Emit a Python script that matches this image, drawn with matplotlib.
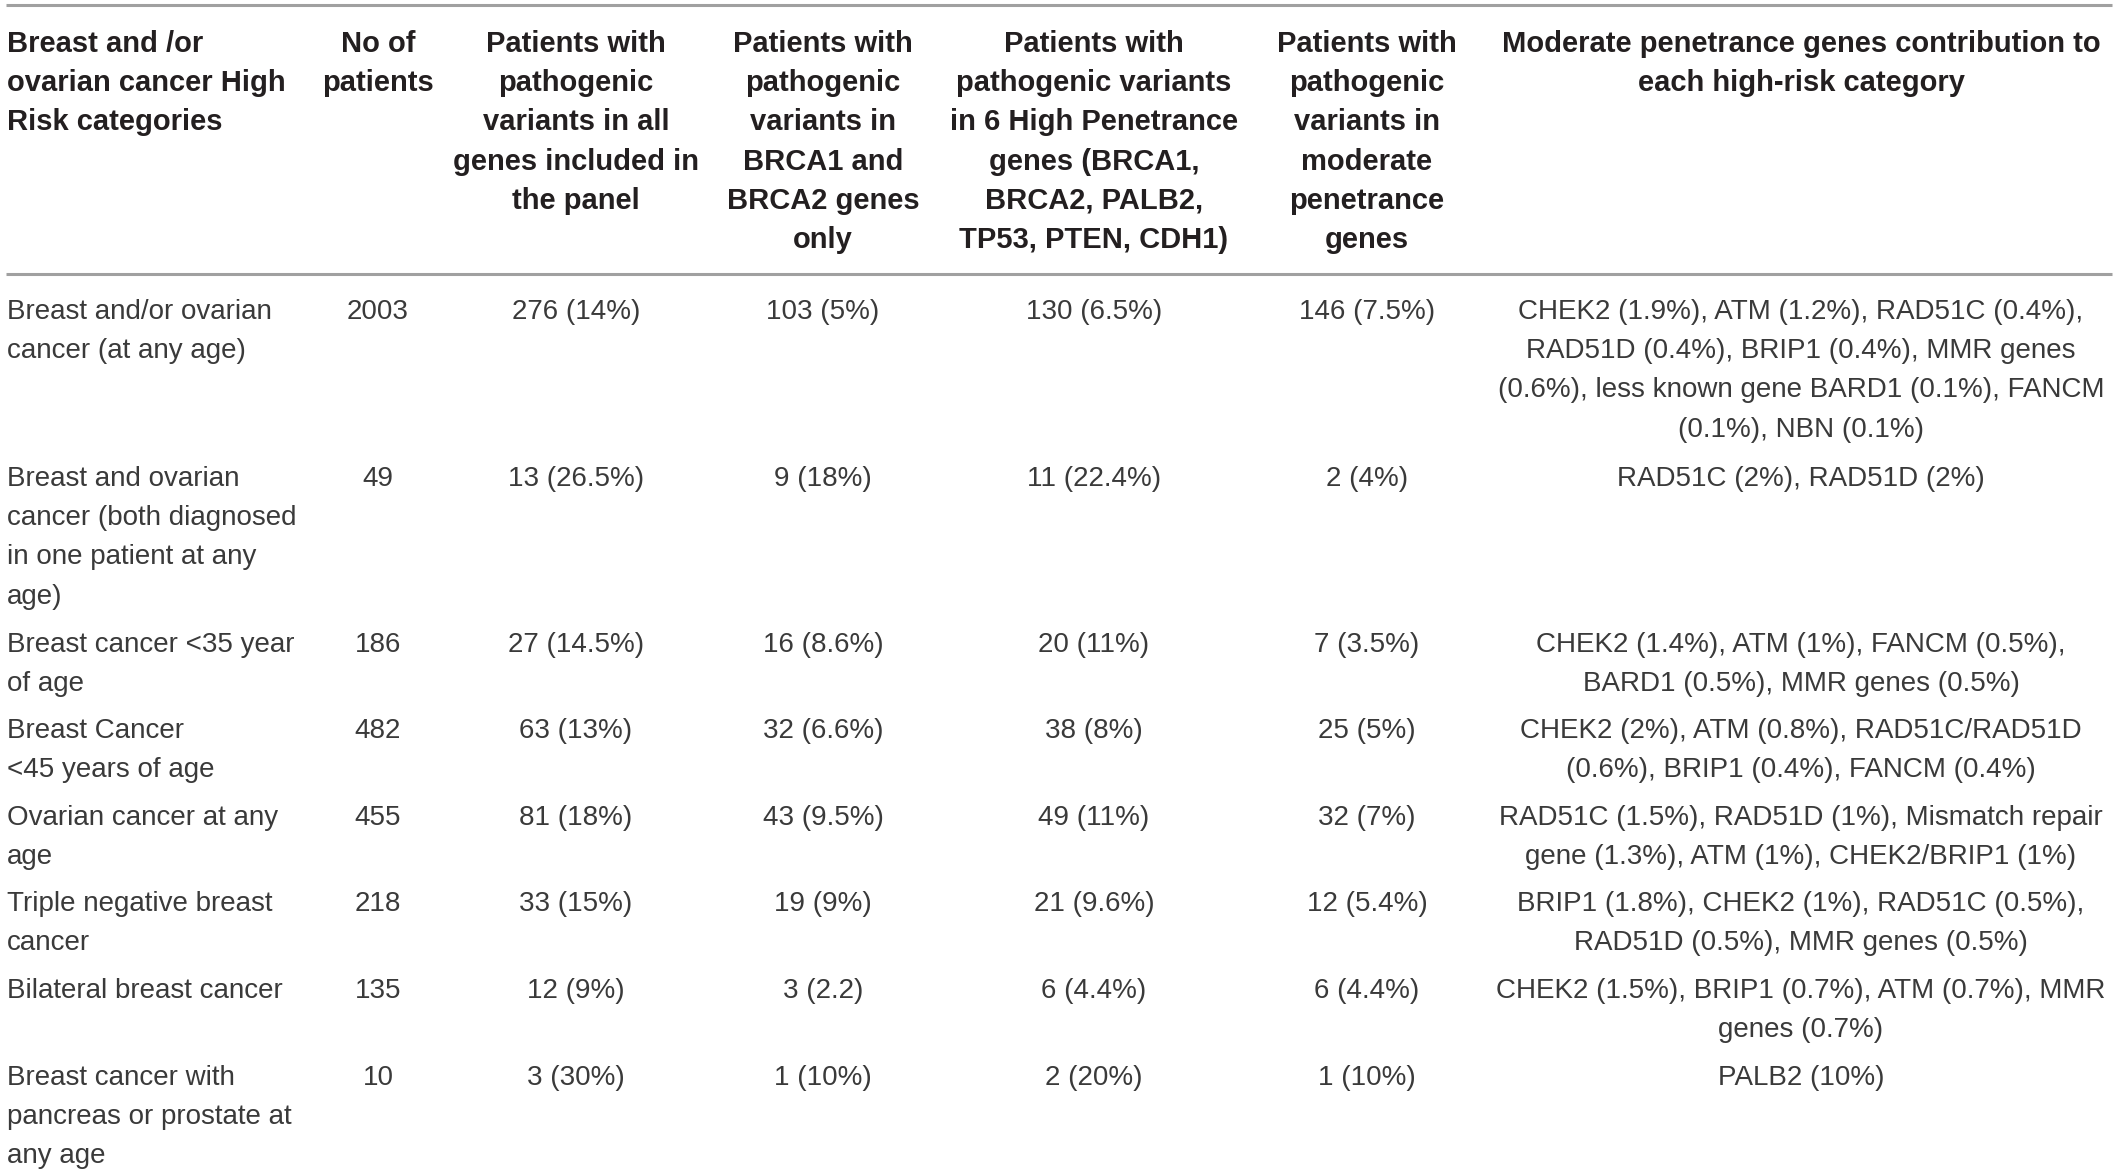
import matplotlib.pyplot as plt

plt.rcParams['font.family'] = ['Liberation Sans', 'DejaVu Sans']

W, H = 2118, 1174

headers = [
    "Breast and /or\novarian cancer High\nRisk categories",
    "No of\npatients",
    "Patients with\npathogenic\nvariants in all\ngenes included in\nthe panel",
    "Patients with\npathogenic\nvariants in\nBRCA1 and\nBRCA2 genes\nonly",
    "Patients with\npathogenic variants\nin 6 High Penetrance\ngenes (BRCA1,\nBRCA2, PALB2,\nTP53, PTEN, CDH1)",
    "Patients with\npathogenic\nvariants in\nmoderate\npenetrance\ngenes",
    "Moderate penetrance genes contribution to\neach high-risk category",
]

categories = [
    "Breast and/or ovarian\ncancer (at any age)",
    "Breast and ovarian\ncancer (both diagnosed\nin one patient at any\nage)",
    "Breast cancer <35 year\nof age",
    "Breast Cancer\n<45 years of age",
    "Ovarian cancer at any\nage",
    "Triple negative breast\ncancer",
    "Bilateral breast cancer",
    "Breast cancer with\npancreas or prostate at\nany age",
]
n_patients = ["2003", "49", "186", "482", "455", "218", "135", "10"]
all_genes = ["276 (14%)", "13 (26.5%)", "27 (14.5%)", "63 (13%)",
             "81 (18%)", "33 (15%)", "12 (9%)", "3 (30%)"]
brca_only = ["103 (5%)", "9 (18%)", "16 (8.6%)", "32 (6.6%)",
             "43 (9.5%)", "19 (9%)", "3 (2.2)", "1 (10%)"]
high_pen = ["130 (6.5%)", "11 (22.4%)", "20 (11%)", "38 (8%)",
            "49 (11%)", "21 (9.6%)", "6 (4.4%)", "2 (20%)"]
moderate = ["146 (7.5%)", "2 (4%)", "7 (3.5%)", "25 (5%)",
            "32 (7%)", "12 (5.4%)", "6 (4.4%)", "1 (10%)"]
contribution = [
    "CHEK2 (1.9%), ATM (1.2%), RAD51C (0.4%),\nRAD51D (0.4%), BRIP1 (0.4%), MMR genes\n(0.6%), less known gene BARD1 (0.1%), FANCM\n(0.1%), NBN (0.1%)",
    "RAD51C (2%), RAD51D (2%)",
    "CHEK2 (1.4%), ATM (1%), FANCM (0.5%),\nBARD1 (0.5%), MMR genes (0.5%)",
    "CHEK2 (2%), ATM (0.8%), RAD51C/RAD51D\n(0.6%), BRIP1 (0.4%), FANCM (0.4%)",
    "RAD51C (1.5%), RAD51D (1%), Mismatch repair\ngene (1.3%), ATM (1%), CHEK2/BRIP1 (1%)",
    "BRIP1 (1.8%), CHEK2 (1%), RAD51C (0.5%),\nRAD51D (0.5%), MMR genes (0.5%)",
    "CHEK2 (1.5%), BRIP1 (0.7%), ATM (0.7%), MMR\ngenes (0.7%)",
    "PALB2 (10%)",
]

# layout (pixels)
col_x = [7, 378, 576, 823, 1094, 1367, 1801]
col_ha = ['left'] + ['center'] * 6
row_y = [312, 479, 645, 731, 818, 904, 991, 1078]
head_y = 44
lh = 39.2

fig = plt.figure(figsize=(W / 100, H / 100), dpi=100)
ax = fig.add_axes([0, 0, 1, 1])
ax.set_xlim(0, W)
ax.set_ylim(H, 0)
ax.axis('off')


def put(x, y, s, ha, **kw):
    for i, line in enumerate(s.split("\n")):
        ax.text(x, y + i * lh, line, ha=ha, va='center', **kw)


ax.hlines([5, 274], 6, 2112, color='#a0a0a0', lw=2.2)

for x, ha, h in zip(col_x, col_ha, headers):
    put(x, head_y, h, ha, color='#231f20', fontweight='bold', fontsize=21)

columns = [categories, n_patients, all_genes, brca_only, high_pen, moderate, contribution]
for x, ha, col in zip(col_x, col_ha, columns):
    for y, s in zip(row_y, col):
        put(x, y, s, ha, color='#3a3a3a', fontsize=20)

fig.savefig("out.png", dpi=100)
